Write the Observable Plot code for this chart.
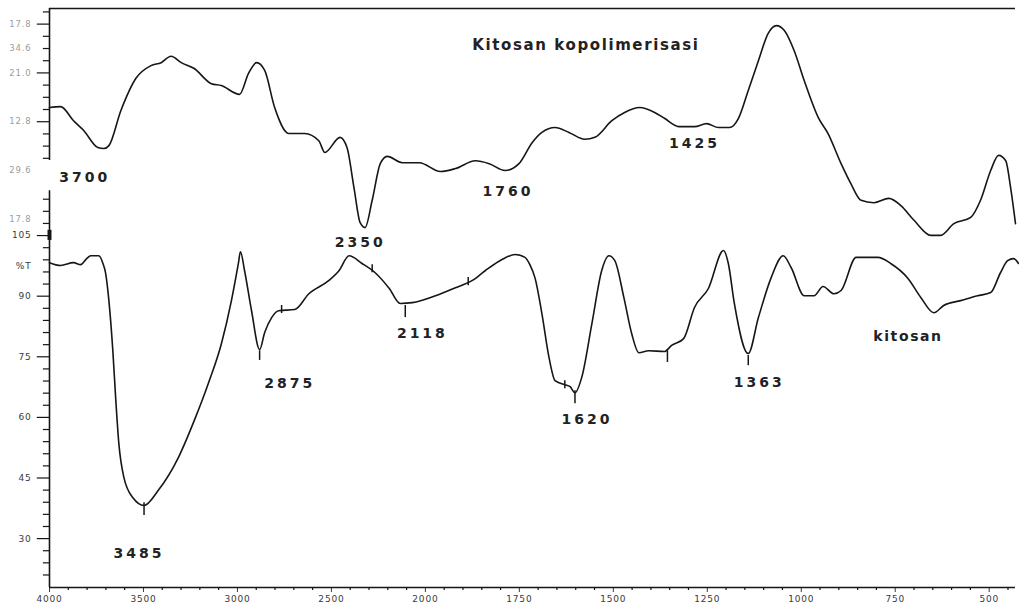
<!DOCTYPE html>
<html>
<head>
<meta charset="utf-8">
<script src="https://cdn.jsdelivr.net/npm/d3@7"></script>
<script src="https://cdn.jsdelivr.net/npm/@observablehq/plot@0.6"></script>
<style>
html, body { margin: 0; padding: 0; background: #fff; }
#wrap { position: relative; width: 1019px; height: 607px; overflow: hidden; background: #fff; }
#wrap svg { position: absolute; left: 0; top: 0; }
</style>
</head>
<body>
<div id="wrap"></div>
<script>
// ---------- X axis (wavenumber, cm-1) ----------
const xTicks = [4000, 3500, 3000, 2500, 2000, 1750, 1500, 1250, 1000, 750, 500];

// ---------- Upper spectrum: Kitosan kopolimerisasi (own arbitrary %T axis) ----------
const upperWn = [4000, 3941, 3872, 3818, 3743, 3711, 3684, 3620, 3540, 3460, 3406, 3353, 3299, 3230, 3139, 3086,
  2989, 2941, 2898, 2855, 2802, 2727, 2642, 2567, 2535, 2454, 2417, 2380, 2347, 2321, 2283, 2240, 2203, 2123, 2032,
  1960, 1920, 1867, 1830, 1788, 1751, 1716, 1690, 1655, 1618, 1576, 1549, 1504, 1470, 1430, 1390, 1364, 1326, 1284,
  1252, 1220, 1191, 1167, 1141, 1114, 1088, 1066, 1045, 1019, 992, 955, 929, 894, 868, 841, 807, 767, 735, 700, 655,
  629, 594, 549, 523, 496, 475, 456, 443, 430];
const upperT = [12.9, 13.1, 10.2, 8.2, 4.7, 4.5, 5.1, 12.3, 18.9, 21.5, 22.1, 23.4, 22.1, 20.9, 17.8, 17.4,
  15.6, 19.9, 22.1, 20.5, 12.9, 7.6, 7.6, 6.1, 3.7, 6.8, 4.7, -3.5, -10.7, -11.7, -6.1, 1.4, 2.9, 1.6, 1.6,
  -0.2, 0.4, 2.0, 1.4, 0.0, 1.4, 5.7, 7.8, 8.8, 7.8, 6.4, 6.8, 10.2, 11.9, 12.9, 11.9, 10.7, 9.0, 9.0,
  9.6, 8.8, 8.8, 10.7, 16.4, 22.5, 28.1, 29.7, 28.7, 24.6, 18.4, 10.9, 7.6, 1.4, -2.7, -6.1, -6.6, -5.7, -7.2, -10.2, -13.3,
  -13.3, -10.9, -9.6, -6.1, 0.0, 3.1, 2.0, -3.5, -10.9];
const upperTickVals = [30, 25, 20, 10, 0, -10];
const upperTickText = ["17.8", "34.6", "21.0", "12.8", "29.6", "17.8"];
const upperLabelText = ["3700", "2350", "1760", "1425"];
const upperLabelWn = [3813, 2347, 1780, 1284];
const upperLabelT = [-1.4, -14.8, -4.3, 5.5];
const upperTitle = "Kitosan kopolimerisasi";
const upperTitleWn = 1573, upperTitleT = 25.6;

// ---------- Lower spectrum: kitosan (%T) ----------
const lowerWn = [4000, 3941, 3872, 3834, 3802, 3781, 3738, 3717, 3701, 3684, 3663, 3647, 3631, 3604, 3556, 3497,
  3422, 3315, 3230, 3155, 3085, 3032, 2995, 2984, 2962, 2925, 2882, 2855, 2818, 2781, 2695, 2620, 2513, 2460, 2406,
  2337, 2267, 2192, 2134, 2069, 1973, 1920, 1875, 1841, 1796, 1761, 1735, 1722, 1708, 1690, 1671, 1655, 1629, 1615,
  1602, 1584, 1557, 1531, 1512, 1496, 1472, 1451, 1432, 1406, 1364, 1345, 1313, 1284, 1247, 1207, 1194, 1178, 1141,
  1114, 1080, 1048, 1027, 992, 966, 942, 913, 894, 854, 796, 762, 716, 682, 647, 621, 576, 531, 496, 470, 451, 435, 422];
const lowerT = [98.3, 97.6, 98.3, 97.8, 99.3, 100.0, 100.0, 98.3, 95.6, 88.9, 76.5, 64.1, 53.5, 45.1, 40.1, 38.2,
  41.9, 50.0, 59.2, 68.4, 78.3, 88.9, 98.1, 101.0, 96.3, 86.4, 76.8, 81.0, 84.7, 86.4, 86.7, 90.6, 93.9, 96.3, 100.0,
  98.1, 95.8, 91.9, 88.2, 88.4, 90.1, 92.1, 93.9, 96.3, 99.1, 100.3, 99.6, 97.8, 94.4, 85.7, 74.8, 69.1, 68.1, 67.6,
  66.1, 69.9, 83.2, 96.3, 100.0, 98.8, 89.7, 80.7, 76.0, 76.5, 76.3, 77.8, 79.5, 87.2, 91.9, 101.3, 98.1, 88.2, 75.8,
  84.7, 94.6, 100.0, 97.1, 90.1, 90.1, 92.4, 90.6, 91.4, 99.6, 99.6, 98.1, 94.4, 89.7, 85.9, 87.7, 88.9, 90.1, 90.9, 95.8, 98.8, 99.3, 98.1];
const lowerTickVals = [105, 97.5, 90, 75, 60, 45, 30];
const lowerTickText = ["105", "%T", "90", "75", "60", "45", "30"];
const lowerMajor = [105, 90, 75, 60, 45, 30];
// peak marker ticks on the kitosan trace
const markWn = [3497, 2882, 2107, 1602, 1141, 1356, 2765, 2283, 1886, 1629];
const markTop = [38.9, 76.5, 87.7, 66.6, 75.3, 76.5, 87.7, 97.8, 94.6, 69.1];
const markBottom = [35.7, 74.1, 84.7, 63.4, 72.8, 73.6, 85.7, 95.8, 92.6, 67.1];
const lowerLabelText = ["3485", "2875", "2118", "1620", "1363", "kitosan"];
const lowerLabelWn = [3524, 2722, 2016, 1570, 1112, 716];
const lowerLabelT = [26.3, 68.4, 80.7, 59.5, 68.6, 80.0];

// ---------- split wavenumber axis: 500 cm-1 per division above 2000, 250 below ----------
const wnToPos = wn => wn >= 2000 ? (4000 - wn) / 500 : 4 + (2000 - wn) / 250;
const X_END = wnToPos(430);

// ---------- build tables ----------
const upperData = upperWn.map((w, i) => ({p: wnToPos(w), t: upperT[i]}));
const lowerData = lowerWn.map((w, i) => ({p: wnToPos(w), t: lowerT[i]}));
const markData = markWn.map((w, i) => ({p: wnToPos(w), y1: markTop[i], y2: markBottom[i]}));
const upperLabels = upperLabelText.map((s, i) => ({s, p: wnToPos(upperLabelWn[i]), t: upperLabelT[i]}));
const lowerLabels = lowerLabelText.map((s, i) => ({s, p: wnToPos(lowerLabelWn[i]), t: lowerLabelT[i]}));
const upperTickMap = new Map(upperTickVals.map((v, i) => [v, upperTickText[i]]));
const lowerTickMap = new Map(lowerTickVals.map((v, i) => [v, lowerTickText[i]]));
const xTickPos = xTicks.map(wnToPos);
const xTickMap = new Map(xTicks.map((v, i) => [xTickPos[i], String(v)]));

const W = 1019, H = 607;
const LOW_MIN = 17.9, LOW_MAX = 161.2;
const UP_MIN = -85.45, UP_MAX = 33.2;
const xMinor = d3.range(0.2, X_END, 0.2).map(v => Math.round(v * 10) / 10).filter(v => Math.abs(v - Math.round(v)) > 1e-6);
const lowerMinor = d3.range(114, 19, -3).filter(v => !lowerMajor.includes(v));
const upperMajor = [30, 20, 10];
const upperMinor = d3.range(32.5, 2, -2.5).filter(v => !upperMajor.includes(v));
const INK = "#161616";
const tickLong = -0.13, tickShort = -0.065; // left-of-axis tick ends in axis units

const xScale = {domain: [0, X_END], range: [49, 1015]};
const baseOpts = {
  width: W, height: H,
  marginLeft: 49, marginRight: 4, marginTop: 8, marginBottom: 20
};

const lowerPlot = Plot.plot({
  ...baseOpts,
  style: {background: "#fff", color: "#3a3a3a", fontFamily: "DejaVu Sans", fontSize: "9px", overflow: "visible"},
  x: {...xScale, ticks: xTickPos, tickFormat: d => xTickMap.get(d), tickSize: 5, tickPadding: 3, label: null},
  y: {domain: [LOW_MIN, LOW_MAX], ticks: lowerTickVals, tickFormat: d => lowerTickMap.get(d), tickSize: 0, tickPadding: 18, label: null},
  marks: [
    Plot.ruleY([LOW_MAX], {x1: 0, x2: X_END, stroke: INK, strokeWidth: 1.6}),
    Plot.ruleY([LOW_MIN], {x1: 0, x2: X_END, stroke: INK, strokeWidth: 1.6}),
    Plot.ruleX([0], {y1: LOW_MIN, y2: 116.1, stroke: INK, strokeWidth: 1.6}),
    Plot.ruleX([0], {y1: 103.8, y2: 106.3, stroke: INK, strokeWidth: 4}),
    Plot.ruleY(lowerMajor, {x1: tickLong, x2: 0, stroke: INK, strokeWidth: 1.2}),
    Plot.ruleY(lowerMinor, {x1: tickShort, x2: 0, stroke: INK, strokeWidth: 1.2}),
    Plot.ruleX(xMinor, {y1: LOW_MIN, y2: LOW_MIN - 0.75, stroke: INK, strokeWidth: 1.2}),
    Plot.line(lowerData, {x: "p", y: "t", stroke: INK, strokeWidth: 1.6, curve: "monotone-x"}),
    Plot.ruleX(markData, {x: "p", y1: "y1", y2: "y2", stroke: INK, strokeWidth: 1.5}),
    Plot.text(lowerLabels, {x: "p", y: "t", text: "s", fontSize: 14, fontWeight: "bold", fontFamily: "DejaVu Sans", fill: "#222"})
  ]
});

const upperPlot = Plot.plot({
  ...baseOpts,
  style: {background: "transparent", color: "#9c9c9c", fontFamily: "DejaVu Sans", fontSize: "8.5px", overflow: "visible", pointerEvents: "none"},
  x: {...xScale, axis: null},
  y: {domain: [UP_MIN, UP_MAX], ticks: upperTickVals, tickFormat: d => upperTickMap.get(d), tickSize: 0, tickPadding: 18, label: null},
  marks: [
    Plot.ruleX([0], {y1: 2.05, y2: UP_MAX, stroke: INK, strokeWidth: 1.6}),
    Plot.ruleY(upperMajor, {x1: tickLong, x2: 0, stroke: INK, strokeWidth: 1.2}),
    Plot.ruleY(upperMinor, {x1: tickShort, x2: 0, stroke: INK, strokeWidth: 1.2}),
    Plot.line(upperData, {x: "p", y: "t", stroke: INK, strokeWidth: 1.6, curve: "monotone-x"}),
    Plot.text(upperLabels, {x: "p", y: "t", text: "s", fontSize: 14, fontWeight: "bold", fontFamily: "DejaVu Sans", fill: "#222"}),
    Plot.text([upperTitle], {x: wnToPos(upperTitleWn), y: upperTitleT, text: d => d, fontSize: 15, fontWeight: "bold", fontFamily: "DejaVu Sans", fill: "#222"})
  ]
});

const wrap = document.getElementById("wrap");
wrap.appendChild(lowerPlot);
wrap.appendChild(upperPlot);

// letter spacing for the annotation labels
for (const svg of [lowerPlot, upperPlot]) {
  d3.select(svg).selectAll('g[aria-label="text"] text').each(function() {
    const s = this.textContent;
    this.setAttribute("letter-spacing", /^\d+$/.test(s) ? "3px" : "1.6px");
  });
  d3.select(svg).selectAll('g[aria-label="x-axis"] text, g[aria-label="y-axis"] text, g[aria-label="x-axis tick label"] text, g[aria-label="y-axis tick label"] text')
    .attr("letter-spacing", "0.8px");
}
</script>
</body>
</html>
